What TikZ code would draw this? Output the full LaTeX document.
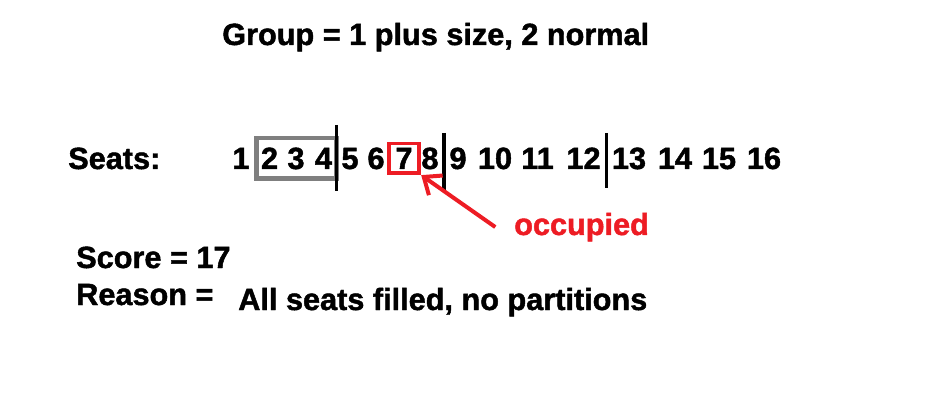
\documentclass[tikz,border=0pt]{standalone}
\usepackage{fontspec}
\setmainfont{Liberation Sans}[BoldFeatures={FakeBold=1.5}]
\usetikzlibrary{arrows.meta,calc,fit}
\definecolor{paintred}{RGB}{237,28,36}
\definecolor{paintgray}{RGB}{127,127,127}
\tikzset{
  txt/.style={inner sep=0pt,anchor=base west,font=\fontsize{23}{28}\selectfont\bfseries},
  seat/.style={inner sep=0pt,anchor=base,font=\fontsize{23}{28}\selectfont\bfseries},
  partition/.style={line width=2.4pt,black},
  groupbox/.style={draw=paintgray,line width=3.4pt,inner xsep=3pt,inner ysep=7pt},
  occbox/.style={draw=paintred,line width=2.8pt,inner xsep=4.9pt,inner ysep=3pt},
  occarrow/.style={paintred,line width=3pt,-{Straight Barb[length=11pt,width=18pt]}}
}
\begin{document}
\begin{tikzpicture}[x=0.75pt,y=-0.75pt]
\useasboundingbox (0,0) rectangle (944,416);
\node[txt] (group) at (222,45) {Group = 1 plus size, 2 normal};
\node[txt] (seats) at (68,169) {Seats:};
\foreach \n/\x in {1/241,2/269.5,3/296,4/323.5,5/350,6/376,7/404,8/430,9/458,10/495,11/537.5,12/583.5,13/629,14/675,15/719,16/764}
  \node[seat] (s\n) at (\x,169) {\n};
\node[groupbox,fit=(s2)(s4)] (plus) {};
\node[occbox,fit=(s7)] (seven) {};
\draw[partition] ($(s4.base)!0.5!(s5.base)$) ++(0,-44) -- ++(0,66);
\draw[partition] ($(s8.base)!0.5!(s9.base)$) ++(0,-36) -- ++(0,59);
\draw[partition] ($(s12.base)!0.5!(s13.base)$) ++(0,-36) -- ++(0,55);
\node[txt,text=paintred,inner xsep=14pt] (occupied) at (495.3,235) {occupied};
\draw[occarrow] (occupied.west) -- (seven.south east);
\node[txt] (score) at (76,268) {Score = 17};
\node[txt] (reason) at (76,305) {Reason =};
\node[txt] (why) at (238,310) {All seats filled, no partitions};
\end{tikzpicture}
\end{document}
